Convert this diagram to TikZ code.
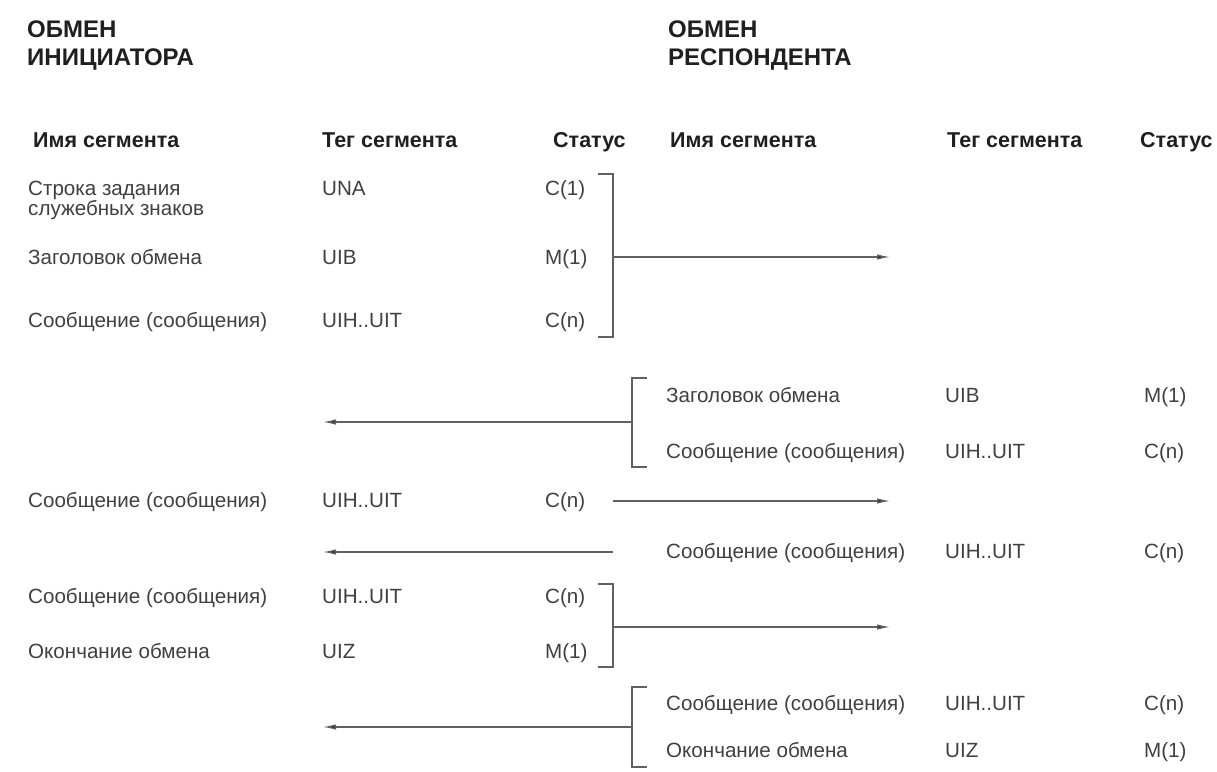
\documentclass[tikz,border=0pt]{standalone}
\usepackage{fontspec}
\setmainfont{Liberation Sans}
\usetikzlibrary{arrows.meta}
\begin{document}
\begin{tikzpicture}[x=1pt,y=-1pt,
  txt/.style={anchor=base west,inner sep=0pt,font=\fontsize{20.6}{20}\selectfont,text=black!75,align=left},
  hdr/.style={anchor=base west,inner sep=0pt,font=\fontsize{21.5}{24}\selectfont\bfseries,text=black!88},
  ttl/.style={anchor=base west,inner sep=0pt,font=\fontsize{24}{28}\selectfont\bfseries,text=black!88,align=left},
  ln/.style={draw=black!62,line width=1.2pt},
  arr/.style={ln,-{Latex[length=13pt,width=5.5pt,fill=black!80]}}]
\useasboundingbox[fill=white] (0,0) rectangle (1217,771);

% titles (base = last line)
\node[ttl] (t1) at (27,65) {ОБМЕН\\ИНИЦИАТОРА};
\node[ttl] (t2) at (668,65) {ОБМЕН\\РЕСПОНДЕНТА};

% headers
\node[hdr] (h1) at (33,147) {Имя сегмента};
\node[hdr] (h2) at (322,147) {Тег сегмента};
\node[hdr] (h3) at (553,147) {Статус};
\node[hdr] (h4) at (670,147) {Имя сегмента};
\node[hdr] (h5) at (947,147) {Тег сегмента};
\node[hdr] (h6) at (1140,147) {Статус};

% block 1 (initiator)
\node[txt] (n1) at (28,215) {Строка задания\\служебных знаков};
\node[txt] (g1) at (322,195) {UNA};
\node[txt] (s1) at (545,195) {C(1)};
\node[txt] (n2) at (28,264) {Заголовок обмена};
\node[txt] (g2) at (322,264) {UIB};
\node[txt] (s2) at (545,264) {M(1)};
\node[txt] (n3) at (28,327) {Сообщение (сообщения)};
\node[txt] (g3) at (322,327) {UIH..UIT};
\node[txt] (s3) at (545,327) {C(n)};

\coordinate (b1t) at (613,174);
\coordinate (b1b) at (613,337);
\coordinate (b1m) at (613,257);
\coordinate (e1) at (890,257);
\draw[ln] ([xshift=-15pt]b1t) -- (b1t) -- (b1b) -- ([xshift=-15pt]b1b);
\draw[arr] (b1m) -- (e1);

% block 2 (responder)
\node[txt] (n4) at (666,402) {Заголовок обмена};
\node[txt] (g4) at (945,402) {UIB};
\node[txt] (s4) at (1144,402) {M(1)};
\node[txt] (n5) at (666,458) {Сообщение (сообщения)};
\node[txt] (g5) at (945,458) {UIH..UIT};
\node[txt] (s5) at (1144,458) {C(n)};

\coordinate (b2t) at (632,378);
\coordinate (b2b) at (632,467);
\coordinate (b2m) at (632,422);
\coordinate (e2) at (323,422);
\draw[ln] ([xshift=15pt]b2t) -- (b2t) -- (b2b) -- ([xshift=15pt]b2b);
\draw[arr] (b2m) -- (e2);

% block 3 (initiator single)
\node[txt] (n6) at (28,507) {Сообщение (сообщения)};
\node[txt] (g6) at (322,507) {UIH..UIT};
\node[txt] (s6) at (545,507) {C(n)};
\coordinate (c3) at (613,501);
\coordinate (e3) at (890,501);
\draw[arr] (c3) -- (e3);

% block 4 (responder single)
\node[txt] (n7) at (666,558) {Сообщение (сообщения)};
\node[txt] (g7) at (945,558) {UIH..UIT};
\node[txt] (s7) at (1144,558) {C(n)};
\coordinate (c4) at (613,552);
\coordinate (e4) at (323,552);
\draw[arr] (c4) -- (e4);

% block 5 (initiator end)
\node[txt] (n8) at (28,603) {Сообщение (сообщения)};
\node[txt] (g8) at (322,603) {UIH..UIT};
\node[txt] (s8) at (545,603) {C(n)};
\node[txt] (n9) at (28,658) {Окончание обмена};
\node[txt] (g9) at (322,658) {UIZ};
\node[txt] (s9) at (545,658) {M(1)};

\coordinate (b5t) at (613,584);
\coordinate (b5b) at (613,667);
\coordinate (b5m) at (613,627);
\coordinate (e5) at (890,627);
\draw[ln] ([xshift=-15pt]b5t) -- (b5t) -- (b5b) -- ([xshift=-15pt]b5b);
\draw[arr] (b5m) -- (e5);

% block 6 (responder end)
\node[txt] (n10) at (666,710) {Сообщение (сообщения)};
\node[txt] (g10) at (945,710) {UIH..UIT};
\node[txt] (s10) at (1144,710) {C(n)};
\node[txt] (n11) at (666,757) {Окончание обмена};
\node[txt] (g11) at (945,757) {UIZ};
\node[txt] (s11) at (1144,757) {M(1)};

\coordinate (b6t) at (632,687);
\coordinate (b6b) at (632,767);
\coordinate (b6m) at (632,727);
\coordinate (e6) at (323,727);
\draw[ln] ([xshift=15pt]b6t) -- (b6t) -- (b6b) -- ([xshift=15pt]b6b);
\draw[arr] (b6m) -- (e6);
\end{tikzpicture}
\end{document}
